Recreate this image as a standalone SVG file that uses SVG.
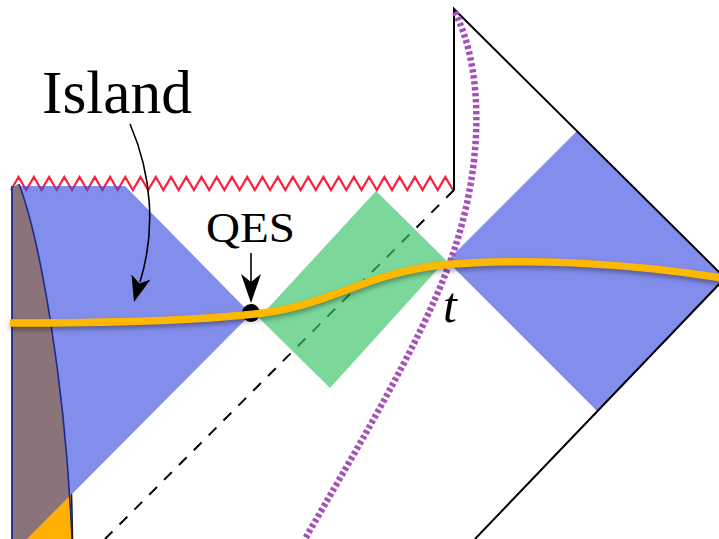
<svg xmlns="http://www.w3.org/2000/svg" width="719" height="539" viewBox="0 0 719 539">
<defs>
<style>
.blue{fill:#4050E0;fill-opacity:0.65}
.edge{fill:none;stroke:#000;stroke-width:2}
.lbl{font-family:"Liberation Serif","DejaVu Serif",serif;fill:#000}
.ptr{fill:none;stroke:#000;stroke-width:1.6}
</style>
<filter id="sh" x="-5%" y="-50%" width="110%" height="200%">
<feGaussianBlur stdDeviation="2.5"/>
</filter>
</defs>
<rect width="719" height="539" fill="#fff"/>
<g id="singularity">
<polyline fill="none" stroke="#FF1E3C" stroke-width="2.2" points="11,190 18.6,177 26.2,190 33.9,177 41.5,190 49.1,177 56.7,190 64.3,177 72,190 79.6,177 87.2,190 94.8,177 102.4,190 110.1,177 117.7,190 125.3,177 132.9,190 140.5,177 148.2,190 155.8,177 163.4,190 171,177 178.6,190 186.3,177 193.9,190 201.5,177 209.1,190 216.7,177 224.4,190 232,177 239.6,190 247.2,177 254.8,190 262.5,177 270.1,190 277.7,177 285.3,190 292.9,177 300.6,190 308.2,177 315.8,190 323.4,177 331,190 338.7,177 346.3,190 353.9,177 361.5,190 369.1,177 376.8,190 384.4,177 392,190 399.6,177 407.2,190 414.9,177 422.5,190 430.1,177 437.7,190 445.3,177 453,190"/>
</g>
<g id="dashed-line">
<line x1="454" y1="190" x2="105" y2="539" stroke="#000" stroke-width="2" stroke-dasharray="11 10"/>
</g>
<g id="island-wedge">
<polygon class="blue" points="12,186 125,186 251,314 72,494 12,494"/>
</g>
<g id="right-wedge">
<polygon class="blue" points="447,261 577,131 725,278 597,411"/>
</g>
<g id="green-diamond">
<polygon fill="#3CC46A" fill-opacity="0.68" points="259,318 376,191 446,260 330,388"/>
</g>
<g id="brown-region">
<path d="M12,539 L12,196 Q13,184 19,184 C40,240 65,380 72,539 Z" fill="#8B7479"/>
<polygon fill="#FFB000" points="71.6,494 27,539 72.5,539"/>
<line x1="12" y1="186" x2="12" y2="539" stroke="#1C2A8C" stroke-width="1.8"/>
<path d="M19,184 C40,240 65,380 72,539" fill="none" stroke="#1C2A8C" stroke-width="1.6"/>
<path d="M71.5,494 C72,510 72.3,525 72.5,539" fill="none" stroke="#222" stroke-width="1.6"/>
</g>
<g id="boundary">
<polyline class="edge" points="454,190 454,9 725,278 475,539"/>
</g>
<g id="purple-curve">
<path d="M455,12 C488,80 480,180 450,262 C420,345 350,460 305,539" fill="none" stroke="#A650BC" stroke-width="6.5" stroke-dasharray="3.4 2.6"/>
</g>
<g id="yellow-curve">
<path d="M10,323 C120,323 200,320 255,314 C330,306 360,275 440,265 C520,258 620,262 722,278" fill="none" stroke="#000" stroke-opacity="0.35" stroke-width="7.5" filter="url(#sh)" transform="translate(0,3)"/>
<circle cx="251" cy="313" r="9" fill="#000"/>
<path d="M10,323 C120,323 200,320 255,314 C330,306 360,275 440,265 C520,258 620,262 722,278" fill="none" stroke="#FFB800" stroke-width="7.5"/>
</g>
<g id="label-island">
<text class="lbl" x="42" y="113" font-size="62" textLength="150" lengthAdjust="spacingAndGlyphs">Island</text>
<path class="ptr" d="M130,124 C152,175 156,230 140,282"/>
<polygon fill="#000" points="134,302 131.5,274.5 139.5,283.5 150.5,279.5"/>
</g>
<g id="label-qes">
<text class="lbl" x="206" y="242" font-size="43" textLength="89" lengthAdjust="spacingAndGlyphs">QES</text>
<line class="ptr" x1="251" y1="253" x2="251" y2="284"/>
<polygon fill="#000" points="251,303 241,274 251,282 261,274"/>
</g>
<g id="label-t">
<text class="lbl" x="443" y="322" font-size="50" font-style="italic">t</text>
</g>
</svg>
